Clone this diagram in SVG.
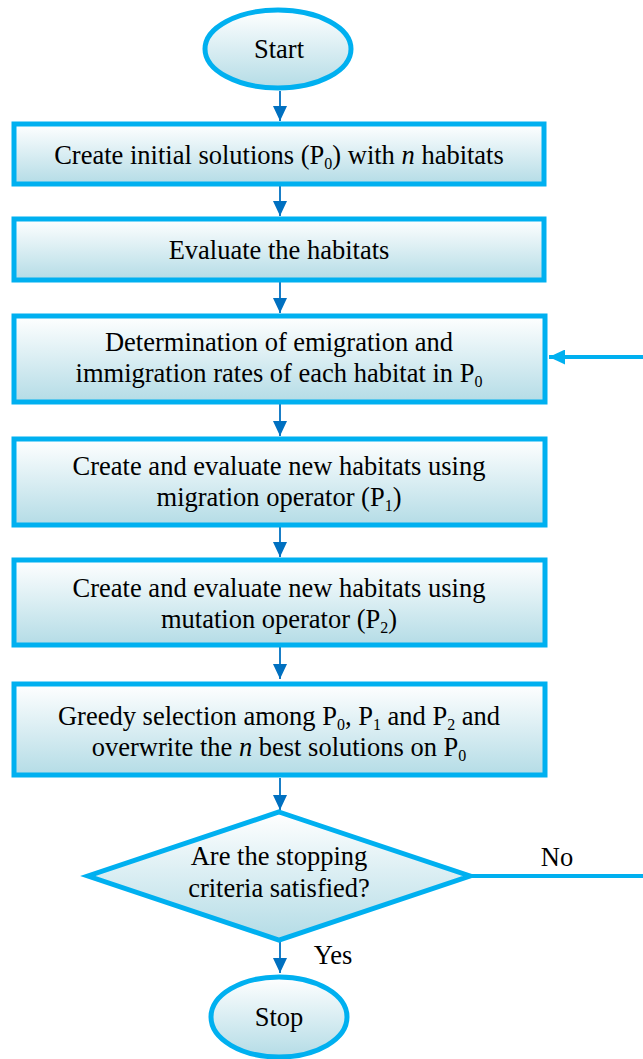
<svg xmlns="http://www.w3.org/2000/svg" width="643" height="1059" viewBox="0 0 643 1059">
<defs>
<linearGradient id="g" x1="0" y1="0" x2="0" y2="1">
<stop offset="0" stop-color="#FFFFFF"/>
<stop offset="1" stop-color="#B4DCE6"/>
</linearGradient>
<marker id="ah" viewBox="0 0 10 10" refX="10" refY="5" markerWidth="15" markerHeight="14" markerUnits="userSpaceOnUse" orient="auto" preserveAspectRatio="none">
<path d="M0,0 L10,5 L0,10 z" fill="#0070C0"/>
</marker>
<marker id="ah2" viewBox="0 0 10 10" refX="10" refY="5" markerWidth="16" markerHeight="15" markerUnits="userSpaceOnUse" orient="auto" preserveAspectRatio="none">
<path d="M0,0 L10,5 L0,10 z" fill="#00B0F0"/>
</marker>
<style>
.n{fill:url(#g);stroke:#00B0F0;stroke-width:5}
.t{font-family:'Liberation Serif','Times New Roman',serif;font-size:26.5px;fill:#000;text-anchor:middle}
.s{font-size:16px}
.c{stroke:#0070C0;stroke-width:1.8;fill:none}
.f{stroke:#00B0F0;stroke-width:4;fill:none}
</style>
</defs>
<g id="connectors">
<line class="c" x1="280" y1="91" x2="280" y2="121" marker-end="url(#ah)"/>
<line class="c" x1="280" y1="186" x2="280" y2="216" marker-end="url(#ah)"/>
<line class="c" x1="280" y1="282" x2="280" y2="313" marker-end="url(#ah)"/>
<line class="c" x1="280" y1="404" x2="280" y2="436" marker-end="url(#ah)"/>
<line class="c" x1="280" y1="527" x2="280" y2="557" marker-end="url(#ah)"/>
<line class="c" x1="280" y1="647" x2="280" y2="679" marker-end="url(#ah)"/>
<line class="c" x1="280" y1="778" x2="280" y2="810" marker-end="url(#ah)"/>
<line class="c" x1="280" y1="942" x2="280" y2="973" marker-end="url(#ah)"/>
<line class="f" x1="470" y1="876" x2="643" y2="876"/>
<line class="f" x1="643" y1="357" x2="549" y2="357" marker-end="url(#ah2)"/>
<text class="t" x="333" y="964">Yes</text>
<text class="t" x="557" y="866">No</text>
</g>
<g id="start">
<ellipse class="n" cx="278" cy="49" rx="73" ry="39"/>
<text class="t" x="279" y="58">Start</text>
</g>
<g id="box1">
<rect class="n" x="14" y="124" width="530" height="60"/>
<text class="t" x="279" y="164">Create initial solutions (P<tspan class="s" dy="5">0</tspan><tspan dy="-5">) with </tspan><tspan font-style="italic">n</tspan> habitats</text>
</g>
<g id="box2">
<rect class="n" x="14" y="219" width="530" height="61"/>
<text class="t" x="279" y="259">Evaluate the habitats</text>
</g>
<g id="box3">
<rect class="n" x="14" y="316" width="531" height="86"/>
<text class="t" x="279" y="351">Determination of emigration and</text>
<text class="t" x="279" y="382">immigration rates of each habitat in P<tspan class="s" dy="5">0</tspan></text>
</g>
<g id="box4">
<rect class="n" x="14" y="439" width="531" height="86"/>
<text class="t" x="279" y="475">Create and evaluate new habitats using</text>
<text class="t" x="279" y="506">migration operator (P<tspan class="s" dy="5">1</tspan><tspan dy="-5">)</tspan></text>
</g>
<g id="box5">
<rect class="n" x="14" y="560" width="531" height="85"/>
<text class="t" x="279" y="597">Create and evaluate new habitats using</text>
<text class="t" x="279" y="628">mutation operator (P<tspan class="s" dy="5">2</tspan><tspan dy="-5">)</tspan></text>
</g>
<g id="box6">
<rect class="n" x="14" y="684" width="531" height="91"/>
<text class="t" x="279" y="725">Greedy selection among P<tspan class="s" dy="5">0</tspan><tspan dy="-5">, P</tspan><tspan class="s" dy="5">1</tspan><tspan dy="-5"> and P</tspan><tspan class="s" dy="5">2</tspan><tspan dy="-5"> and</tspan></text>
<text class="t" x="279" y="756">overwrite the <tspan font-style="italic">n</tspan> best solutions on P<tspan class="s" dy="5">0</tspan></text>
</g>
<g id="decision">
<polygon class="n" points="279,812 470,876 279,940 88,876"/>
<text class="t" x="279" y="865">Are the stopping</text>
<text class="t" x="279" y="897">criteria satisfied?</text>
</g>
<g id="stop">
<ellipse class="n" cx="279" cy="1017" rx="68" ry="40"/>
<text class="t" x="279" y="1026">Stop</text>
</g>
</svg>
